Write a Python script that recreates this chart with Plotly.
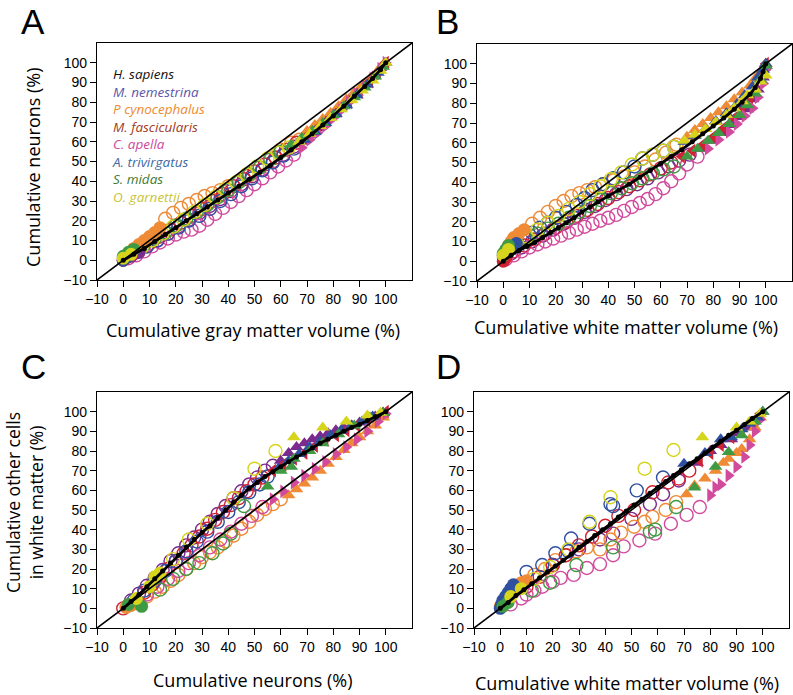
import plotly.graph_objects as go

# ---------------- data ----------------
species = ["hsap", "mnem", "pcyn", "mfas", "cape", "atri", "smid", "ogar"]
species_names = ["H. sapiens", "M. nemestrina", "P cynocephalus", "M. fascicularis",
                 "C. apella", "A. trivirgatus", "S. midas", "O. garnettii"]
tick_vals = [-10, 0, 10, 20, 30, 40, 50, 60, 70, 80, 90, 100]
diag = [-10, 110]

# Panel A: cumulative gray matter volume (x) vs cumulative neurons (y)
a_hsap_x = [0, 4, 8, 12, 16, 20, 24, 28, 32, 36, 40, 44, 48, 52, 56, 60, 64, 68, 72, 76, 80, 84, 88, 92, 95, 98, 100]
a_hsap_y = [0, 3, 6, 9.5, 13, 16.5, 20, 23.5, 27, 30.5, 34, 37.5, 41, 44.5, 48, 52, 56, 60, 64, 68.5, 73, 78, 83, 88, 92, 96.5, 100]
a_mnem_x = [0, 3, 6, 9, 13, 17, 21, 25, 29, 33, 37, 41, 45, 49, 53, 57, 61, 65, 68, 71, 74, 77, 80, 83, 86, 89, 92, 95, 98]
a_mnem_y = [0, 2, 4, 7, 10, 13.5, 17, 20.5, 24, 27.5, 31, 35, 38.5, 42.5, 46, 50, 53.5, 57.5, 60, 63.5, 67, 70.5, 74, 77.5, 81.5, 85, 89, 93, 97.5]
a_pcyn_x = [0, 2, 4, 6, 8, 10, 12, 14, 16, 19, 22, 25, 28, 31, 34, 37, 40, 44, 48, 52, 56, 60, 64, 67, 70, 73, 76, 79, 82, 85, 88, 91, 94, 97, 99]
a_pcyn_y = [1, 3.5, 6, 8, 10, 12, 14, 16.5, 21, 24, 26.5, 28.5, 30.5, 32.5, 34, 35.5, 37.5, 40, 43, 47, 51.5, 56, 59.5, 61, 65.5, 68.5, 71.5, 74.5, 78, 81.5, 85, 88.5, 92, 96, 99]
a_mfas_x = [0, 1, 3, 6, 10, 14, 18, 22, 26, 30, 34, 38, 42, 46, 50, 54, 58, 62, 66, 70, 74, 78, 82, 86, 90, 94, 97, 100]
a_mfas_y = [0, 1, 2.5, 5, 8.5, 12, 15.5, 19, 22.5, 26, 30, 33.5, 37.5, 41, 45, 48.5, 52, 56, 59.5, 63, 67, 71, 75.5, 80, 85, 90.5, 95, 100]
a_cape_x = [2, 5, 8, 11, 14, 17, 20, 23, 26, 29, 32, 35, 38, 41, 44, 47, 50, 53, 56, 59, 62, 65, 68, 71, 74, 77, 80, 83, 86, 89, 92, 95, 98, 100]
a_cape_y = [1, 2.5, 4.5, 7, 9, 11, 13, 14.5, 15.5, 17.5, 20.5, 23.5, 26.5, 29.5, 32.5, 35.5, 38.5, 41.5, 44.5, 47.5, 50.5, 53.5, 57, 61, 64.5, 68, 72, 76, 80, 84, 88, 92, 97, 100]
a_atri_x = [0, 2, 5, 9, 13, 17, 21, 25, 29, 33, 37, 41, 45, 49, 53, 57, 61, 65, 69, 73, 77, 81, 85, 89, 93, 97, 100]
a_atri_y = [0, 2, 4, 7, 10, 13.5, 16.5, 20, 22.5, 26, 30, 33.5, 37.5, 41.5, 45.5, 49.5, 53, 56.5, 61, 65, 69.5, 74, 78.5, 83.5, 89, 95, 100]
a_smid_x = [0, 2, 4, 8, 12, 16, 20, 24, 28, 32, 36, 40, 44, 48, 52, 56, 60, 64, 68, 72, 76, 80, 84, 88, 92, 96, 99]
a_smid_y = [2, 4, 5.5, 8, 11, 14, 17.5, 21, 24.5, 28, 32, 35.5, 39.5, 43.5, 47, 51, 55, 58.5, 62, 65.5, 69.5, 73.5, 78, 82.5, 87.5, 93, 98]
a_ogar_x = [0, 3, 7, 11, 15, 19, 23, 27, 31, 35, 39, 43, 47, 51, 55, 59, 63, 67, 71, 75, 79, 83, 87, 91, 95, 98, 100]
a_ogar_y = [1, 3, 6.5, 10, 13.5, 17, 20.5, 24.5, 28, 32, 36, 39.5, 43.5, 47.5, 51.5, 54.5, 57, 60, 64, 68, 72, 76.5, 81, 86, 91, 96, 100]
# region boundaries (x below first -> filled circle, x from second -> triangle)
a_zone = {"mnem": (7, 66.5), "pcyn": (15, 69), "mfas": (4, 68), "cape": (0, 66),
          "atri": (3, 67), "smid": (5, 62), "ogar": (4, 65)}

# Panel B: cumulative white matter volume (x) vs cumulative neurons (y)
b_hsap_x = [0, 3, 6, 9, 12, 15, 18, 21, 24, 27, 30, 33, 36, 40, 44, 48, 52, 56, 60, 64, 68, 72, 76, 80, 84, 88, 91, 94, 96, 98, 99, 100]
b_hsap_y = [0, 3, 5.5, 7.5, 9.5, 12, 14.5, 17, 19.5, 22, 25, 27.5, 30, 33, 36, 39, 42.5, 46, 49.5, 53, 56.5, 60.5, 64.5, 68.5, 72.5, 77, 80.5, 84.5, 88, 92.5, 96, 100]
b_mnem_x = [3, 7, 11, 15, 19, 23, 27, 31, 35, 39, 43, 47, 51, 55, 59, 63, 67, 71, 75, 79, 83, 87, 90, 93, 95, 97, 99, 100]
b_mnem_y = [4, 7, 10, 13, 16, 19, 22, 25, 28, 31, 34, 36.5, 39, 42, 45, 48, 51, 54, 57, 61, 65, 69, 73, 77, 82, 87, 93, 99]
b_pcyn_x = [0, 1, 2, 3, 4, 6, 8, 11, 14, 17, 20, 23, 26, 29, 32, 35, 38, 42, 46, 50, 54, 58, 62, 66, 70, 73, 76, 79, 82, 85, 88, 91, 94, 96, 98, 100]
b_pcyn_y = [2, 5, 8, 10, 12, 14, 16, 19, 22, 25, 28, 30.5, 33, 34.5, 36, 37.5, 39, 41, 43, 45, 48, 51.5, 55, 59, 63, 66.5, 69.5, 72.5, 75.5, 78.5, 82, 85.5, 89, 92.5, 96, 100]
b_mfas_x = [0, 0.5, 1, 4, 8, 12, 16, 20, 24, 28, 32, 36, 40, 44, 48, 52, 56, 60, 64, 68, 72, 76, 80, 84, 88, 91, 94, 96, 98, 100]
b_mfas_y = [0, 1, 2, 5, 8, 11, 14, 17, 20, 23, 26, 29, 32, 35, 38, 41, 44, 47, 50, 53, 56, 59, 63, 67.5, 72.5, 77, 83, 88, 94, 100]
b_cape_x = [1, 4, 7, 10, 13, 16, 19, 22, 25, 28, 31, 34, 37, 40, 43, 46, 49, 52, 55, 58, 61, 64, 67, 70, 74, 78, 82, 86, 89, 92, 95, 97, 99, 100]
b_cape_y = [1, 3, 5, 7, 8.5, 10, 11.5, 13, 14.5, 16, 17.5, 19, 20.5, 22, 23.5, 25.5, 27.5, 29.5, 31.5, 34, 37, 40.5, 44.5, 49, 53, 57, 61.5, 65.5, 69.5, 73.5, 77.5, 83, 90, 97]
b_atri_x = [0, 1, 3, 5, 8, 11, 14, 17, 20, 24, 28, 31, 34, 38, 42, 46, 50, 53, 57, 61, 65, 69, 73, 77, 81, 85, 89, 92, 95, 97, 99, 100]
b_atri_y = [3, 5, 7, 9, 12, 14.5, 17, 19.5, 22, 25, 28.5, 32, 36, 39, 42, 45, 48, 52, 54, 56, 58, 60.5, 63.5, 67, 71, 75, 79.5, 84, 88.5, 93, 97, 100]
b_smid_x = [0, 1, 2, 5, 9, 13, 17, 21, 25, 29, 33, 37, 41, 45, 49, 53, 57, 61, 65, 70, 74, 78, 82, 86, 90, 93, 96, 98, 100]
b_smid_y = [4, 6, 8, 10, 12, 14, 16.5, 19, 22, 25, 28, 31, 34.5, 37, 39.5, 42, 44.5, 46.5, 48, 53, 57, 61, 65, 69.5, 74, 79, 85, 92, 99]
b_ogar_x = [0, 2, 5, 9, 13, 17, 21, 25, 29, 33, 37, 41, 45, 49, 53, 57, 61, 65, 69, 73, 77, 81, 85, 88, 91, 93, 96, 98, 100]
b_ogar_y = [3, 6, 9, 12.5, 16, 19.5, 23, 26.5, 30, 34, 38, 41.5, 45, 49, 52, 54, 56, 58, 61, 64, 67, 70.5, 74, 77.5, 81, 84, 87, 91, 94]
b_zone = {"mnem": (0, 73), "pcyn": (9, 68), "mfas": (2, 66), "cape": (0, 76),
          "atri": (6, 67), "smid": (3, 68), "ogar": (3, 67)}

# Panel C: cumulative neurons (x) vs cumulative other cells in white matter (y)
c_hsap_x = [0, 3, 6, 9, 12, 15, 18, 21, 24, 27, 30, 33, 36, 39, 42, 45, 48, 51, 54, 57, 60, 63, 66, 69, 72, 75, 78, 81, 84, 87, 90, 93, 96, 100]
c_hsap_y = [0, 3.5, 7, 11, 15, 19, 23, 27, 31, 35, 38.5, 42, 46, 50, 54, 57.5, 61, 64, 67, 69.5, 72, 74.5, 77, 79, 81.5, 84, 86, 88, 90, 92, 93.5, 95.5, 97.5, 100]
c_mnem_x = [3, 6, 9, 12, 15, 18, 21, 24, 27, 30, 33, 36, 39, 42, 45, 48, 51, 54, 57, 60, 63, 66, 69, 72, 75, 78, 81, 84, 87, 90, 93, 96, 99]
c_mnem_y = [4, 7.5, 11.5, 15.5, 19.5, 24, 28, 32, 36, 40, 44, 48, 52, 56, 59.5, 63, 66.5, 70, 72.5, 75, 79, 82, 84, 86, 87.5, 89, 90.5, 92, 93, 94.5, 96, 97.5, 99.5]
c_pcyn_x = [1, 3, 6, 9, 12, 15, 18, 21, 24, 27, 30, 33, 36, 39, 42, 45, 48, 51, 54, 57, 60, 63, 66, 69, 72, 75, 78, 81, 84, 87, 90, 93, 96, 99]
c_pcyn_y = [0.5, 1.5, 3, 6, 8.5, 11, 14, 17, 20, 23, 26, 28.5, 31, 34, 37, 40.5, 44, 47.5, 50.5, 53, 55.5, 57.5, 60.5, 63.5, 66.5, 70, 73.5, 77, 80.5, 84, 87, 90, 93, 97]
c_mfas_x = [0, 2, 5, 8, 11, 14, 17, 20, 23, 26, 29, 32, 35, 38, 41, 44, 47, 50, 53, 57, 61, 65, 69, 73, 77, 81, 85, 89, 93, 97, 100]
c_mfas_y = [0, 1.5, 4, 8, 12, 16, 20, 24, 28, 32, 36.5, 40.5, 45, 49, 52.5, 56, 59.5, 63, 66.5, 70, 73, 76, 79, 82.5, 85.5, 88, 90.5, 93, 95.5, 98, 100]
c_cape_x = [5, 9, 13, 17, 21, 25, 29, 33, 37, 41, 45, 49, 53, 57, 61, 65, 69, 73, 77, 81, 85, 89, 93, 97, 100]
c_cape_y = [3, 7, 11, 15, 19, 23, 27, 31, 35, 39, 43, 47, 51.5, 55.5, 59.5, 64, 67.5, 71, 74.5, 78.5, 82, 86, 90, 95, 99]
c_atri_x = [4, 8, 12, 16, 20, 24, 28, 32, 36, 40, 44, 48, 52, 55, 59, 63, 67, 71, 75, 79, 83, 87, 91, 95, 99]
c_atri_y = [4, 9, 14, 19, 24, 29, 34, 39, 44, 49, 54, 59, 63, 67, 71, 75, 78.5, 82, 85, 88, 90.5, 93, 95, 97.5, 99.5]
c_smid_x = [2, 7, 14, 19, 24, 29, 34, 38, 41, 46, 55, 60, 64, 65, 71, 76, 82, 88, 94, 99]
c_smid_y = [2, 1, 9.5, 15, 20, 23, 28, 33, 38, 52, 62, 70, 72, 76, 80, 84, 88.5, 93, 97, 99.5]
c_ogar_x = [5, 10, 12, 14, 19, 25, 32, 42, 50, 58, 65, 76, 85, 93, 98]
c_ogar_y = [5, 11, 16, 18, 25, 35, 43, 56, 71, 80, 87, 92, 95, 98, 99.5]
c_zone = {"mnem": (0, 58.5), "pcyn": (4, 61.5), "mfas": (0, 55), "cape": (0, 55),
          "atri": (0, 57), "smid": (8, 50), "ogar": (15, 62)}

# Panel D: cumulative white matter volume (x) vs cumulative other cells in white matter (y)
d_hsap_x = [0, 3, 6, 9, 12, 15, 18, 21, 24, 27, 30, 33, 36, 39, 42, 45, 48, 51, 54, 57, 60, 63, 66, 69, 72, 75, 78, 81, 84, 87, 90, 93, 96, 100]
d_hsap_y = [0, 3, 6.5, 9.5, 12.5, 15.5, 18.5, 21.5, 24.5, 27.5, 31, 34, 37, 40, 43, 46.5, 49.5, 52.5, 55.5, 58.5, 61.5, 64.5, 67.5, 70.5, 73.5, 76, 79, 82, 85, 88, 90.5, 93.5, 96.5, 100]
d_mnem_x = [20, 30, 38, 43, 50, 57, 62, 68, 75, 80, 84, 88, 91, 94, 96, 98]
d_mnem_y = [22, 30, 35, 38, 45.5, 53, 58, 65, 74, 80, 83, 86, 89, 92, 95, 97]
d_pcyn_x = [0, 1, 2, 3, 4, 6, 8, 10, 13, 17, 21, 25, 29, 33, 38, 42, 46, 51, 55, 58, 63, 67, 71, 74, 78, 82, 85, 87, 90, 92, 95, 97, 99]
d_pcyn_y = [1, 3, 5, 7, 9, 11, 13, 14, 17, 20, 24.5, 27, 29, 31, 30, 35, 38.5, 41.5, 44, 46.5, 50, 54, 58, 62.5, 66, 70, 74, 76, 79, 81, 86, 92, 97]
d_mfas_x = [10, 15, 20, 25, 30, 35, 40, 45, 51, 58, 64, 68, 72, 76, 80, 84, 88, 92, 96, 99]
d_mfas_y = [11, 16, 22, 27, 32, 36.5, 42, 47, 50, 59, 64, 66, 70, 75, 79, 83, 87, 91, 95, 99]
d_cape_x = [4, 8, 10, 13, 16, 20, 23, 28, 33, 38, 43, 47, 53, 59, 65, 71, 76, 80, 82, 84, 87, 90, 93, 95, 97, 99]
d_cape_y = [2, 5, 7, 9, 11, 13.5, 15.5, 17, 20.5, 22.5, 27, 31.5, 34.5, 38, 43, 47.5, 51.5, 57.5, 61.5, 63, 67.5, 72, 77, 83, 90, 96]
d_atri_x = [0, 0.5, 1, 2, 3, 4, 5, 10, 16, 21, 26, 27, 34, 42, 43, 52, 62, 70, 78, 84, 88, 92, 95, 98, 100]
d_atri_y = [0, 2, 4, 6, 8, 10, 12, 18.5, 22, 28, 29, 35.5, 43, 53, 52, 60, 66.5, 73.5, 79, 86, 87, 91, 94, 97, 100]
d_smid_x = [1, 3, 12, 19, 29, 43, 57, 59, 67, 74, 82, 87, 92, 97, 100]
d_smid_y = [1, 3, 9, 13, 22, 31, 39, 40, 51.5, 61.5, 72, 79.5, 88, 95, 100]
d_ogar_x = [4, 8, 13, 19, 26, 34, 42, 55, 66, 77, 90, 95, 99]
d_ogar_y = [6, 10, 15, 21, 30, 44, 56.5, 71, 80.5, 87, 92, 95, 99]
d_zone = {"mnem": (0, 75), "pcyn": (11, 69), "mfas": (0, 74), "cape": (0, 78),
          "atri": (6, 68), "smid": (5, 71), "ogar": (9, 72)}

# ---------------- style ----------------
marker_colors = {"hsap": "#000000", "mnem": "#7b2a8e", "pcyn": "#ef8a35", "mfas": "#cf2233",
                 "cape": "#d24a9c", "atri": "#2f4f9f", "smid": "#3e9a43", "ogar": "#d6d41c"}
label_colors = {"hsap": "#111111", "mnem": "#5b55a8", "pcyn": "#ee8a30", "mfas": "#a23a1e",
                "cape": "#cc4a9c", "atri": "#3b6aa5", "smid": "#3d7a35", "ogar": "#c8c43a"}
tri_symbol = {"mnem": "triangle-up", "pcyn": "triangle-up", "mfas": "triangle-left",
              "cape": "triangle-right", "atri": "triangle-up", "smid": "triangle-up",
              "ogar": "triangle-up"}

W, H = 793, 695
# panel rectangles in pixels: left, top, right, bottom
rects = [(97, 43, 412, 280), (477, 44, 792, 281), (97, 392, 412, 628), (474, 392, 789, 628)]
panels = [("", "a", a_zone), ("2", "b", b_zone), ("3", "c", c_zone), ("4", "d", d_zone)]

fig = go.Figure()
g = globals()
for idx, (suf, p, zone) in enumerate(panels):
    xa, ya = "x" + suf, "y" + suf
    layers = {"open": [], "filled": [], "tri": []}
    for s in species[1:]:
        xs, ys = g[f"{p}_{s}_x"], g[f"{p}_{s}_y"]
        f, t = zone[s]
        for kind in ("open", "filled", "tri"):
            px, py = [], []
            for x, y in zip(xs, ys):
                k = "filled" if x < f else ("tri" if x >= t else "open")
                if k == kind:
                    px.append(x)
                    py.append(y)
            if not px:
                continue
            if kind == "open":
                mk = dict(symbol="circle-open", size=13, color=marker_colors[s],
                          line=dict(width=1.4, color=marker_colors[s]))
            elif kind == "filled":
                mk = dict(symbol="circle", size=13, color=marker_colors[s], line=dict(width=0))
            else:
                mk = dict(symbol=tri_symbol[s], size=12, color=marker_colors[s], line=dict(width=0))
            layers[kind].append(go.Scatter(x=px, y=py, mode="markers", marker=mk, xaxis=xa, yaxis=ya,
                                           showlegend=False, hoverinfo="skip"))
    for kind in ("open", "filled", "tri"):
        for tr in layers[kind]:
            fig.add_trace(tr)
    # human
    fig.add_trace(go.Scatter(x=g[f"{p}_hsap_x"], y=g[f"{p}_hsap_y"], mode="lines+markers",
                             line=dict(color="black", width=2.8),
                             marker=dict(symbol="circle", size=5, color="black"),
                             xaxis=xa, yaxis=ya, showlegend=False, hoverinfo="skip"))
    # identity line
    fig.add_trace(go.Scatter(x=diag, y=diag, mode="lines", line=dict(color="black", width=1.6),
                             xaxis=xa, yaxis=ya, showlegend=False, hoverinfo="skip"))

    l, tp, r, b = rects[idx]
    axis_common = dict(range=[-10, 110], tickvals=tick_vals, ticks="outside", ticklen=6, tickwidth=1,
                       tickcolor="black", showline=True, linecolor="black", linewidth=1.3, mirror=True,
                       showgrid=False, zeroline=False, automargin=False,
                       tickfont=dict(family="Liberation Sans, Arial", size=14, color="black"))
    fig.layout["xaxis" + suf] = dict(axis_common, domain=[l / W, r / W], anchor=ya)
    fig.layout["yaxis" + suf] = dict(axis_common, domain=[1 - b / H, 1 - tp / H], anchor=xa)

ann = []
title_font = dict(family="Open Sans", size=18, color="black")


def px_ann(text, x, y, font, xanchor="center", yanchor="middle", angle=0, align="center"):
    ann.append(dict(text=text, x=x / W, y=1 - y / H, xref="paper", yref="paper", showarrow=False,
                    xanchor=xanchor, yanchor=yanchor, textangle=angle, font=font, align=align))


# panel letters
letter_font = dict(family="Liberation Sans, Arial", size=35, color="black")
px_ann("A", 19, 22, letter_font, xanchor="left")
px_ann("B", 434, 22, letter_font, xanchor="left")
px_ann("C", 19, 366, letter_font, xanchor="left")
px_ann("D", 434, 366, letter_font, xanchor="left")

# axis titles
px_ann("Cumulative gray matter volume (%)", 253, 330, title_font)
px_ann("Cumulative white matter volume (%)", 626, 327, title_font)
px_ann("Cumulative neurons (%)", 253, 680, title_font)
px_ann("Cumulative white matter volume (%)", 627, 683, title_font)
px_ann("Cumulative neurons (%)", 33, 167, title_font, angle=-90)
px_ann("Cumulative other cells<br>in white matter (%)", 24, 503, dict(title_font, size=17.5), angle=-90)

# species legend (panel A) as a single multi-line text
legend_lines = [f'<span style="color:{label_colors[s]}"><i>{n}</i></span>'
                for s, n in zip(species, species_names)]
px_ann("<br>".join(legend_lines), 110, 135, dict(family="Open Sans", size=13.5, color="black"),
       xanchor="left", align="left")

fig.update_layout(template="none", width=W, height=H, margin=dict(l=0, r=0, t=0, b=0, autoexpand=False),
                  paper_bgcolor="white", plot_bgcolor="white", annotations=ann, showlegend=False)

fig.write_html("out.html", config={"displayModeBar": False},
               post_script="document.body.style.margin='0px';")
